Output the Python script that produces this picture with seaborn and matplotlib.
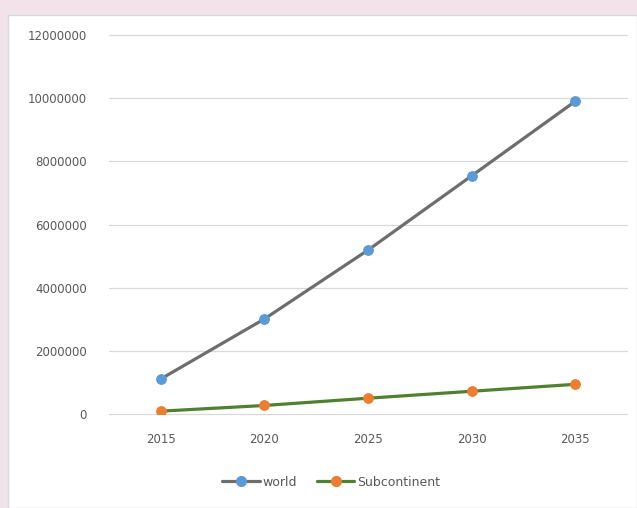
import matplotlib
matplotlib.use("Agg")
import matplotlib.pyplot as plt
import matplotlib.patches as mpatches
from matplotlib.lines import Line2D
import seaborn as sns
import pandas as pd

years = ["2015", "2020", "2025", "2030", "2035"]
world = [1110000, 3010000, 5190000, 7540000, 9900000]
subcontinent = [90000, 270000, 500000, 720000, 940000]
yticks = [0, 2000000, 4000000, 6000000, 8000000, 10000000, 12000000]

sns.set_theme(style="white")
plt.rcParams['font.family'] = ['DejaVu Sans']

df = pd.DataFrame({
    "year": years * 2,
    "value": world + subcontinent,
    "series": ["world"] * len(years) + ["Subcontinent"] * len(years),
})
df["x"] = df.groupby("series").cumcount()

fig = plt.figure(figsize=(6.37, 5.08), dpi=100)
fig.patch.set_facecolor("#f1e3e9")
# white chart panel
panel = mpatches.Rectangle((8 / 637, 0), 629 / 637, 493 / 508, transform=fig.transFigure,
                           facecolor="white", edgecolor="#d9d9d9", linewidth=1, zorder=-10)
fig.patches.append(panel)

ax = fig.add_axes([109 / 637, (508 - 414) / 508, (627 - 109) / 637, (414 - 35) / 508])
ax.set_zorder(5)
ax.set_facecolor("none")

line_colors = {"world": "#6e6e6e", "Subcontinent": "#4f8130"}
marker_colors = {"world": "#5b9bd5", "Subcontinent": "#ed7d31"}

for s in ["world", "Subcontinent"]:
    sub = df[df.series == s]
    sns.lineplot(data=sub, x="x", y="value", ax=ax, color=line_colors[s], linewidth=2.3,
                 marker="o", markersize=7, markerfacecolor=marker_colors[s],
                 markeredgecolor=marker_colors[s], legend=False, zorder=3)

ax.set_xlim(-0.5, 4.5)
ax.set_ylim(0, 12000000)
ax.set_xticks(range(len(years)))
ax.set_xticklabels(years)
ax.set_yticks(yticks)
ax.set_yticklabels([str(v) for v in yticks])
ax.yaxis.grid(True, color="#d9d9d9", linewidth=0.9)
for gl in ax.get_ygridlines():
    gl.set_clip_on(False)
ax.set_axisbelow(True)
for sp in ax.spines.values():
    sp.set_visible(False)
ax.tick_params(axis="both", length=0, labelsize=8.5, labelcolor="#595959")
ax.tick_params(axis="x", pad=14)
ax.tick_params(axis="y", pad=16)
ax.set_xlabel("")
ax.set_ylabel("")

handles = [
    Line2D([0], [0], color=line_colors[s], linewidth=2.3, marker="o", markersize=7,
           markerfacecolor=marker_colors[s], markeredgecolor=marker_colors[s])
    for s in ["world", "Subcontinent"]
]
leg = fig.legend(handles, ["world", "Subcontinent"], loc="center",
                 bbox_to_anchor=(331 / 637, (508 - 482) / 508), ncol=2, frameon=False,
                 fontsize=9, handlelength=3.0, handletextpad=0.2, columnspacing=1.6)
for t in leg.get_texts():
    t.set_color("#595959")

fig.savefig("out.png", dpi=100, facecolor=fig.get_facecolor())
